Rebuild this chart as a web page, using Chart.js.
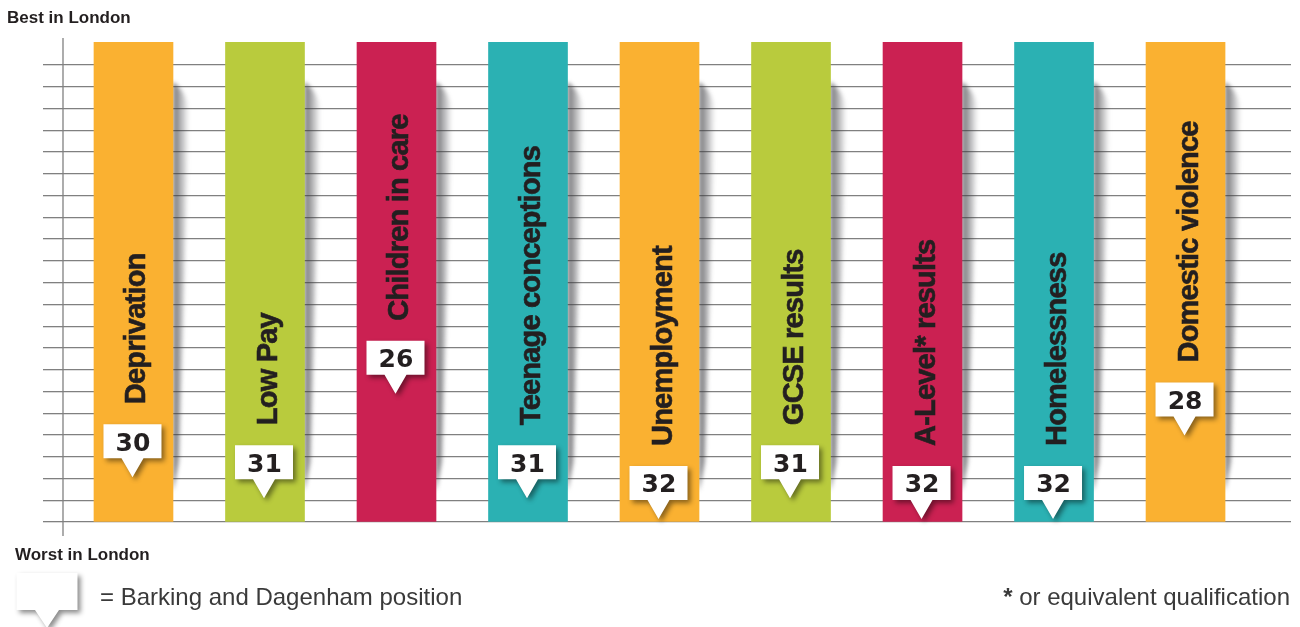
<!DOCTYPE html>
<html>
<head>
<meta charset="utf-8">
<script src="https://cdn.jsdelivr.net/npm/chart.js@4.4.0/dist/chart.umd.min.js"></script>
<style>
html, body { margin: 0; padding: 0; background: #fff; }
#wrap { position: relative; width: 1300px; height: 627px; overflow: hidden; }
#chart { position: absolute; left: 0; top: 0; }
.t { position: absolute; font-family: "Liberation Sans", Arial, sans-serif; line-height: 1; white-space: nowrap; }
.head { font-weight: bold; font-size: 17px; color: #231f20; }
.note { font-size: 24px; color: #3a3a3a; top: 585px; }
</style>
</head>
<body>
<div id="wrap">
  <canvas id="chart" width="1300" height="627"></canvas>
  <div class="t head" style="left:7px;top:9px;">Best in London</div>
  <div class="t head" style="left:15px;top:546px;">Worst in London</div>
  <div class="t note" style="left:100px;">= Barking and Dagenham position</div>
  <div class="t note" style="right:10px;"><b>*</b> or equivalent qualification</div>
</div>
<script>
// Barking and Dagenham rank among London boroughs (1 = best)
const categories = ['Deprivation', 'Low Pay', 'Children in care', 'Teenage conceptions', 'Unemployment',
                    'GCSE results', 'A-Level* results', 'Homelessness', 'Domestic violence'];
const positions = [30, 31, 26, 31, 32, 31, 32, 32, 28];
const barColors = ['#fab131', '#b9cb3d', '#cb2152', '#2bb1b3', '#fab131',
                   '#b9cb3d', '#cb2152', '#2bb1b3', '#fab131'];
const gridLines = [0, 1, 2, 3, 4, 5, 6, 7, 8, 9, 10, 11, 12, 13, 14, 15, 16, 17, 18, 19, 20, 21];
const barSpan = [0, 22.06];

const FONT = '"Liberation Sans", Arial, sans-serif';

function calloutPath(ctx, cx, top, w, h, tipH, tipW) {
    const l = cx - w / 2, r = cx + w / 2, b = top + h;
    ctx.beginPath();
    ctx.moveTo(l, top);
    ctx.lineTo(r, top);
    ctx.lineTo(r, b);
    ctx.lineTo(cx + tipW / 2, b);
    ctx.lineTo(cx, b + tipH);
    ctx.lineTo(cx - tipW / 2, b);
    ctx.lineTo(l, b);
    ctx.closePath();
}

function drawCallout(ctx, cx, top, w, h, tipH, tipW) {
    ctx.save();
    ctx.shadowColor = 'rgba(0,0,0,0.45)';
    ctx.shadowBlur = 5;
    ctx.shadowOffsetX = 3;
    ctx.shadowOffsetY = 3;
    ctx.fillStyle = '#fff';
    calloutPath(ctx, cx, top, w, h, tipH, tipW);
    ctx.fill();
    ctx.restore();
}

const decorPlugin = {
    id: 'decor',
    beforeDatasetsDraw(chart) {
        const ctx = chart.ctx;
        const area = chart.chartArea;
        // vertical axis line, runs a little past the plot area
        ctx.save();
        ctx.strokeStyle = '#808080';
        ctx.lineWidth = 1.3;
        ctx.beginPath();
        ctx.moveTo(area.left, area.top - 4);
        ctx.lineTo(area.left, area.bottom + 14);
        ctx.stroke();
        ctx.restore();

        // curled-paper shadow on the right of each bar
        chart.getDatasetMeta(0).data.forEach(bar => {
            const right = bar.x + bar.width / 2;
            const top = bar.y, bottom = bar.base;
            ctx.save();
            ctx.filter = 'blur(2px)';
            const g = ctx.createLinearGradient(right, 0, right + 16, 0);
            g.addColorStop(0, 'rgba(60,60,65,0.75)');
            g.addColorStop(1, 'rgba(60,60,65,0)');
            ctx.fillStyle = g;
            ctx.beginPath();
            ctx.moveTo(right, top + 40);
            ctx.quadraticCurveTo(right + 14, top + 50, right + 16, top + 70);
            ctx.lineTo(right + 6, bottom - 60);
            ctx.lineTo(right, bottom - 30);
            ctx.closePath();
            ctx.fill();
            ctx.restore();
        });
    },
    afterDatasetsDraw(chart) {
        const ctx = chart.ctx;
        const bars = chart.getDatasetMeta(0).data;
        chart.getDatasetMeta(1).data.forEach((pt, i) => {
            const cx = pt.x - 1;
            const boxTop = pt.y - 19 - 34;

            // category label, rotated, sitting above the callout
            ctx.save();
            ctx.font = 'bold 29px ' + FONT;
            ctx.letterSpacing = '-0.8px';
            ctx.fillStyle = '#231f20';
            ctx.strokeStyle = '#231f20';
            ctx.lineWidth = 0.6;
            ctx.translate(bars[i].x + 12, boxTop - 20);
            ctx.rotate(-Math.PI / 2);
            ctx.textAlign = 'left';
            ctx.textBaseline = 'alphabetic';
            ctx.fillText(categories[i], 0, 0);
            ctx.strokeText(categories[i], 0, 0);
            ctx.restore();

            drawCallout(ctx, cx, boxTop, 58, 34, 19, 22);

            ctx.save();
            ctx.font = 'bold 25px "DejaVu Sans", sans-serif';
            ctx.fillStyle = '#231f20';
            ctx.textAlign = 'center';
            ctx.textBaseline = 'alphabetic';
            ctx.fillText(String(positions[i]), cx + 0.5, boxTop + 26.5);
            ctx.restore();
        });

        // legend marker
        drawCallout(ctx, 47, 573, 61, 37, 18, 24);
    }
};

const ctx = document.getElementById('chart');
new Chart(ctx, {
    type: 'bar',
    data: {
        datasets: [
            {
                data: categories.map((c, i) => ({ x: i, y: barSpan })),
                backgroundColor: barColors,
                barThickness: 79,
                borderWidth: 0,
                xAxisID: 'x',
                yAxisID: 'y'
            },
            {
                type: 'scatter',
                data: positions.map((p, i) => ({ x: i, y: p })),
                xAxisID: 'x',
                yAxisID: 'yRank',
                pointRadius: 0,
                showLine: false
            }
        ]
    },
    options: {
        responsive: false,
        animation: false,
        events: [],
        layout: { padding: { left: 43, right: 9, top: 42, bottom: 105 } },
        plugins: { legend: { display: false }, tooltip: { enabled: false } },
        scales: {
            x: { type: 'linear', axis: 'x', display: false, offset: false, min: -0.536, max: 8.802 },
            y: {
                type: 'linear',
                axis: 'y',
                position: 'left',
                min: 0,
                max: 22.06,
                afterFit(scale) { scale.width = 20; },
                afterBuildTicks(scale) { scale.ticks = gridLines.map(v => ({ value: v })); },
                ticks: { display: false },
                grid: { color: '#808080', lineWidth: 1.3, drawTicks: true, tickLength: 20 },
                border: { display: false }
            },
            yRank: { type: 'linear', axis: 'y', position: 'right', display: false, reverse: true, min: 9.144, max: 32.144 }
        }
    },
    plugins: [decorPlugin]
});
</script>
</body>
</html>
